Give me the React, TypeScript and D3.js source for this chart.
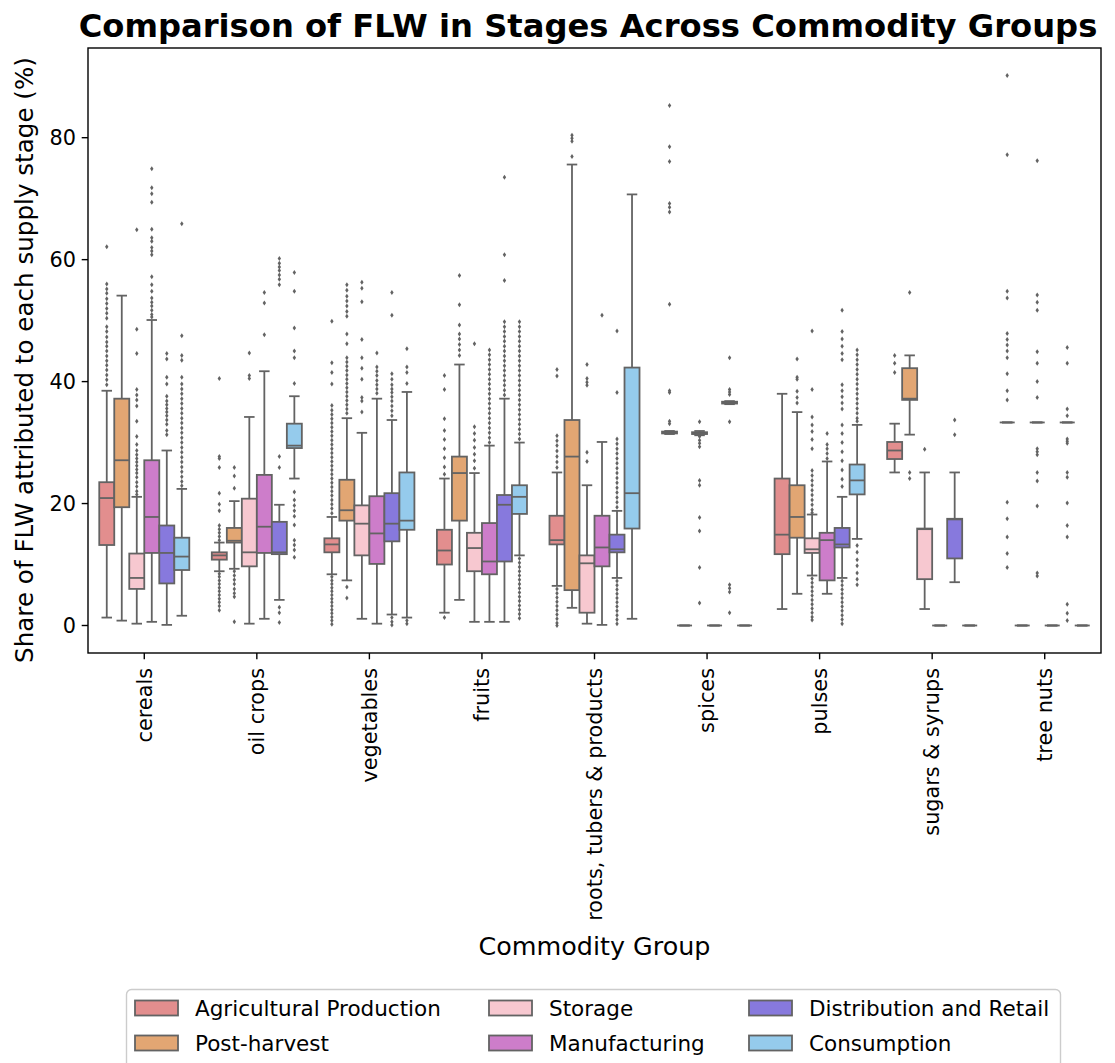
import React from 'react';
import * as d3 from 'd3';

const categories = [
  'cereals', 'oil crops', 'vegetables', 'fruits', 'roots, tubers & products',
  'spices', 'pulses', 'sugars & syrups', 'tree nuts',
];
const stages = [
  'Agricultural Production', 'Post-harvest', 'Storage',
  'Manufacturing', 'Distribution and Retail', 'Consumption',
];
const stageColors = ['lightcoral', 'sandybrown', 'pink', 'orchid', 'mediumslateblue', 'lightskyblue'];
const yTicks = [0, 20, 40, 60, 80];

// per category: [lower whisker, Q1, median, Q3, upper whisker]
const agriStats = [
  [1.3, 13.2, 20.9, 23.5, 38.5],
  [8.9, 10.8, 11.5, 12.0, 13.6],
  [8.4, 12.0, 13.3, 14.3, 17.8],
  [2.1, 10.0, 12.3, 15.7, 24.1],
  [6.5, 13.3, 14.0, 18.0, 25.1],
  [31.4, 31.5, 31.6, 31.8, 31.9],
  [2.7, 11.7, 14.9, 24.1, 38.0],
  [25.1, 27.3, 28.7, 30.1, 33.1],
  [33.3, 33.3, 33.3, 33.3, 33.3],
];
const postStats = [
  [0.8, 19.4, 27.1, 37.2, 54.1],
  [9.3, 13.6, 13.9, 16.0, 20.4],
  [7.4, 17.2, 18.9, 23.9, 34.0],
  [4.2, 17.2, 25.0, 27.7, 42.8],
  [2.9, 5.8, 27.7, 33.7, 75.6],
  [0, 0, 0, 0, 0],
  [5.2, 14.4, 17.8, 23.0, 35.0],
  [31.3, 37.0, 37.2, 42.2, 44.3],
  [0, 0, 0, 0, 0],
];
const storageStats = [
  [0.3, 6.0, 7.8, 11.8, 21.1],
  [0.3, 9.7, 12.0, 20.8, 34.2],
  [1.1, 11.5, 16.7, 19.7, 31.6],
  [0.6, 8.9, 12.7, 15.2, 25.0],
  [0.3, 2.1, 10.2, 11.5, 23.0],
  [31.2, 31.4, 31.5, 31.7, 31.9],
  [8.2, 11.9, 12.5, 14.3, 18.2],
  [2.7, 7.6, 15.8, 15.9, 25.1],
  [33.3, 33.3, 33.3, 33.3, 33.3],
];
const manufStats = [
  [0.6, 11.9, 17.8, 27.1, 50.1],
  [1.1, 11.9, 16.2, 24.7, 41.7],
  [0.3, 10.1, 15.1, 21.2, 37.2],
  [0.6, 8.4, 10.5, 16.8, 29.5],
  [0.1, 9.7, 12.8, 18.0, 30.1],
  [0, 0, 0, 0, 0],
  [5.2, 7.4, 14.0, 15.2, 26.9],
  [0, 0, 0, 0, 0],
  [0, 0, 0, 0, 0],
];
const distStats = [
  [0.1, 6.9, 11.9, 16.4, 28.7],
  [4.2, 11.7, 12.0, 17.0, 19.8],
  [1.8, 13.8, 16.7, 21.7, 33.7],
  [0.6, 10.5, 19.8, 21.4, 37.2],
  [7.8, 12.0, 12.5, 14.9, 18.8],
  [36.3, 36.4, 36.6, 36.7, 36.8],
  [7.8, 12.8, 13.3, 16.0, 21.1],
  [7.1, 11.0, 17.4, 17.5, 25.1],
  [33.3, 33.3, 33.3, 33.3, 33.3],
];
const consStats = [
  [1.6, 9.1, 11.3, 14.4, 22.4],
  [24.1, 29.1, 29.5, 33.1, 37.6],
  [1.3, 15.7, 17.2, 25.1, 38.3],
  [11.5, 18.3, 21.1, 23.0, 30.0],
  [1.1, 15.9, 21.7, 42.3, 70.7],
  [0, 0, 0, 0, 0],
  [14.2, 21.5, 23.8, 26.4, 32.9],
  [0, 0, 0, 0, 0],
  [0, 0, 0, 0, 0],
];

const agriOutliers = [
  [62.1, 56.0, 55.2, 54.5, 53.6, 52.8, 52.0, 51.2, 50.4, 49.0, 48.2, 47.3, 46.5, 45.8, 45.0, 44.2, 43.4, 42.7, 41.9, 41.1, 40.3, 39.5],
  [40.5, 27.7, 27.4, 25.9, 21.7, 19.9, 18.8, 16.4, 15.8, 15.2, 14.6, 14.0, 8.5, 8.0, 7.4, 6.8, 6.2, 5.6, 5.0, 4.4, 3.8, 3.2, 2.5],
  [49.9, 43.1, 41.5, 39.6, 36.1, 35.3, 34.6, 33.9, 33.2, 32.5, 31.8, 31.1, 30.4, 29.7, 29.0, 28.3, 27.6, 26.9, 26.2, 25.5, 24.8, 24.1, 23.4, 22.7, 22.0, 21.3, 20.6, 19.9, 19.2, 18.4, 8.0, 7.4, 6.8, 6.2, 5.6, 5.0, 4.4, 3.8, 3.2, 2.6, 2.0, 1.4, 0.8, 0.2],
  [41.0, 38.7, 33.9, 32.0, 30.5, 29.0, 27.5, 26.0, 24.8, 1.3],
  [42.0, 40.9, 31.1, 30.3, 29.5, 28.6, 27.7, 26.8, 25.9, 6.0, 5.3, 4.6, 3.9, 3.2, 2.5, 1.8, 1.1, 0.4, 0.0],
  [85.3, 78.5, 76.1, 69.2, 68.6, 67.8, 52.7, 38.5, 38.2, 33.5, 33.1],
  [],
  [44.3, 43.0, 41.5],
  [90.2, 77.2, 54.8, 53.7, 47.9, 46.9, 46.0, 45.0, 43.9, 41.3, 38.5, 37.0, 20.2, 17.5, 14.5, 11.8, 9.5],
];
const postOutliers = [
  [],
  [25.9, 24.5, 22.5, 8.9, 8.2, 7.5, 6.8, 6.0, 5.3, 4.7, 0.6],
  [55.9, 55.0, 54.0, 53.2, 52.4, 51.5, 50.7, 47.8, 46.2, 43.9, 43.2, 42.5, 41.8, 41.1, 40.4, 39.7, 39.0, 38.3, 37.6, 36.9, 36.2, 35.5, 34.8, 6.3, 4.5],
  [57.4, 52.6, 49.3, 47.8, 47.0, 46.1, 45.2, 44.3],
  [80.4, 79.9, 79.4, 76.9],
  [],
  [43.7, 40.7, 40.4, 38.4, 37.4, 36.5],
  [54.6, 25.1, 24.1],
  [],
];
const storageOutliers = [
  [64.9, 48.6, 44.6, 38.7, 37.8, 37.0, 36.0, 33.5, 31.0, 29.7, 28.7, 28.0, 27.4, 26.8, 26.2, 25.6, 25.0, 24.3, 23.5, 22.8, 22.0, 21.5],
  [44.7, 41.0, 40.5],
  [56.3, 55.3, 53.1, 46.9, 43.9, 42.2, 40.4, 37.4, 36.8, 35.0],
  [46.2, 32.6, 31.5, 30.4, 29.2, 28.1, 27.0, 25.8],
  [42.8, 40.5, 39.9, 39.4, 28.4, 26.9],
  [33.4, 31.0, 30.4, 29.9, 29.3, 23.8, 23.0, 17.7, 15.5, 9.5, 3.7],
  [48.3, 38.7, 34.2, 32.9, 31.8, 30.5, 29.0, 25.4, 24.6, 23.8, 23.0, 22.2, 21.4, 20.6, 19.8, 19.0, 18.5, 7.7, 7.0, 6.3, 5.6, 4.9, 4.2, 3.5, 2.8, 2.1, 1.4, 0.9],
  [28.9],
  [76.2, 54.2, 53.0, 51.7, 44.9, 43.0, 40.0, 37.4, 29.0, 28.5, 28.0, 25.1, 23.7, 19.6, 8.6, 8.1],
];
const manufOutliers = [
  [74.9, 71.8, 70.8, 69.4, 65.0, 63.6, 63.0, 62.0, 61.4, 60.8, 57.2, 55.9, 54.8, 53.7, 53.0, 52.4, 51.7, 51.0, 50.6],
  [54.6, 52.9, 47.7],
  [44.7, 42.4, 41.7, 41.0, 40.2, 39.5, 38.8, 38.1],
  [45.2, 44.4, 43.6, 42.8, 42.0, 41.2, 40.4, 39.6, 38.8, 38.0, 37.2, 36.4, 35.6, 34.8, 34.0, 33.2, 32.4, 31.6, 30.8, 30.0],
  [50.9],
  [],
  [31.5, 29.7, 29.0, 28.2, 27.4],
  [],
  [],
];
const distOutliers = [
  [44.6, 43.7, 40.7, 39.6, 37.6, 36.8, 36.2, 35.6, 35.0, 34.4, 33.7, 33.0, 32.0, 31.3],
  [60.2, 59.4, 58.8, 58.2, 57.5, 56.8, 55.9, 27.7, 25.9, 3.0, 2.1, 0.5],
  [54.6, 50.9, 41.3, 40.4, 39.5, 38.8, 38.2, 37.5, 36.8, 36.0, 35.2, 34.4, 1.3, 0.6, 0.1],
  [73.5, 60.8, 56.6, 49.8, 49.0, 48.2, 47.4, 46.6, 45.8, 45.0, 44.2, 43.4, 42.6, 41.8, 41.0, 40.2, 39.4, 38.6, 37.8],
  [48.3, 38.2, 30.6, 29.8, 29.0, 28.2, 27.4, 26.6, 25.8, 25.0, 24.2, 23.4, 22.6, 21.8, 21.0, 20.2, 19.4, 7.3, 6.6, 5.9, 5.2, 4.5, 3.8, 3.1, 2.4, 1.7, 1.0, 0.3],
  [43.9, 38.7, 38.3, 37.9, 33.4, 6.7, 6.1, 5.5, 2.1],
  [51.7, 48.2, 47.0, 45.8, 44.6, 43.6, 39.5, 38.5, 37.5, 36.5, 35.5, 32.9, 31.5, 30.0, 28.5, 27.0, 25.5, 24.0, 22.8, 7.3, 6.6, 5.9, 5.2, 4.5, 3.8, 3.1, 2.4, 1.7, 1.0, 0.3],
  [33.7, 31.3],
  [45.6, 43.0, 35.5, 34.4, 30.6, 30.2, 29.9, 25.1, 24.3, 20.1, 16.4, 14.5, 3.5, 2.0, 0.8],
];
const consOutliers = [
  [65.9, 47.5, 44.3, 43.5, 40.7, 39.6, 38.8, 38.0, 37.2, 36.4, 35.6, 34.8, 34.0, 33.2, 32.4, 31.6, 30.8, 30.0, 29.2, 28.4, 27.6, 26.8, 26.0, 25.2, 24.4, 23.6, 22.9],
  [57.9, 54.8, 48.8, 45.0, 43.9, 39.7, 21.9, 20.6, 19.7, 18.8, 17.9, 16.5, 14.0, 13.2, 12.4, 11.2],
  [45.4, 42.4, 41.5, 39.7, 0.8, 0.3],
  [49.8, 49.0, 48.2, 47.4, 46.6, 45.8, 45.0, 44.2, 43.4, 42.6, 41.8, 41.0, 40.2, 39.4, 38.6, 37.8, 37.0, 36.2, 35.4, 34.6, 33.8, 33.0, 32.2, 31.4, 30.6, 11.0, 10.3, 9.6, 8.9, 8.2, 7.5, 6.8, 6.1, 5.4, 4.7, 4.0, 3.3, 2.6, 1.9, 1.2],
  [],
  [],
  [45.2, 44.4, 43.6, 42.8, 42.0, 41.2, 40.4, 39.6, 38.8, 38.0, 37.2, 36.4, 35.6, 34.8, 34.0, 33.5, 13.1, 12.0, 10.8, 9.8, 8.6, 7.6, 6.7],
  [],
  [],
];

const stageStats = [agriStats, postStats, storageStats, manufStats, distStats, consStats];
const stageOutliers = [agriOutliers, postOutliers, storageOutliers, manufOutliers, distOutliers, consOutliers];

const W = 1115;
const H = 1063;
const margin = { left: 88, right: 14, top: 48, bottom: 410 };
const FONT = 'DejaVu Sans, sans-serif';
const LINE = '#636363';

// seaborn-style desaturation (0.75)
const fills = stageColors.map((c) => {
  const h = d3.hsl(c);
  h.s *= 0.75;
  return h.formatHex();
});

export default function App() {
  const x = d3.scaleBand<string>()
    .domain(categories)
    .range([margin.left, W - margin.right])
    .paddingInner(0)
    .paddingOuter(0);
  const y = d3.scaleLinear()
    .domain([-4.51, 94.71])
    .range([H - margin.bottom, margin.top]);

  const band = x.bandwidth();
  const bw = (band * 0.8) / stages.length;
  const capW = bw * 0.7;
  const x0 = margin.left;
  const x1 = W - margin.right;
  const y0 = margin.top;
  const y1 = H - margin.bottom;

  const diamond = (cx: number, cy: number) =>
    `M${cx},${cy - 2.5}L${cx + 1.7},${cy}L${cx},${cy + 2.5}L${cx - 1.7},${cy}Z`;

  return (
    <div style={{ position: 'absolute', left: 0, top: 0 }}>
      <svg width={W} height={H} style={{ display: 'block', background: '#fff' }} fontFamily={FONT}>
        <text x={588} y={37} textAnchor="middle" fontSize={32.2} fontWeight="bold" fill="#000">
          Comparison of FLW in Stages Across Commodity Groups
        </text>

        {categories.map((cat, i) => (
          <g key={cat}>
            {stages.map((st, j) => {
              const [lo, q1, med, q3, hi] = stageStats[j][i];
              const cx = (x(cat) as number) + band * 0.1 + bw * (j + 0.5);
              return (
                <g key={st}>
                  <line x1={cx} x2={cx} y1={y(q3)} y2={y(hi)} stroke={LINE} strokeWidth={1.8} />
                  <line x1={cx} x2={cx} y1={y(q1)} y2={y(lo)} stroke={LINE} strokeWidth={1.8} />
                  <line x1={cx - capW / 2} x2={cx + capW / 2} y1={y(hi)} y2={y(hi)} stroke={LINE} strokeWidth={1.8} />
                  <line x1={cx - capW / 2} x2={cx + capW / 2} y1={y(lo)} y2={y(lo)} stroke={LINE} strokeWidth={1.8} />
                  <rect
                    x={cx - bw / 2}
                    y={y(q3)}
                    width={bw}
                    height={Math.max(0, y(q1) - y(q3))}
                    fill={fills[j]}
                    stroke={LINE}
                    strokeWidth={1.8}
                  />
                  <line x1={cx - bw / 2} x2={cx + bw / 2} y1={y(med)} y2={y(med)} stroke={LINE} strokeWidth={1.8} />
                  {stageOutliers[j][i].map((v, k) => (
                    <path key={k} d={diamond(cx, y(v))} fill={LINE} />
                  ))}
                </g>
              );
            })}
          </g>
        ))}

        <rect x={x0} y={y0} width={x1 - x0} height={y1 - y0} fill="none" stroke="#000" strokeWidth={1.4} />

        {yTicks.map((t) => (
          <g key={t}>
            <line x1={x0 - 6.3} x2={x0} y1={y(t)} y2={y(t)} stroke="#000" strokeWidth={1.4} />
            <text x={x0 - 12} y={y(t)} dy="0.35em" textAnchor="end" fontSize={20.8} fill="#000">{t}</text>
          </g>
        ))}

        {categories.map((cat) => {
          const cx = (x(cat) as number) + band / 2;
          return (
            <g key={cat}>
              <line x1={cx} x2={cx} y1={y1} y2={y1 + 6.3} stroke="#000" strokeWidth={1.4} />
              <text
                transform={`translate(${cx},${y1 + 15}) rotate(-90)`}
                textAnchor="end"
                dy="0.35em"
                fontSize={20.8}
                fill="#000"
              >
                {cat}
              </text>
            </g>
          );
        })}

        <text
          transform={`translate(33,360) rotate(-90)`}
          textAnchor="middle"
          fontSize={24.6}
          fill="#000"
        >
          Share of FLW attributed to each supply stage (%)
        </text>
        <text x={(x0 + x1) / 2} y={955} textAnchor="middle" fontSize={25.4} fill="#000">
          Commodity Group
        </text>

        <g>
          <rect x={126.5} y={989.5} width={934} height={90} rx={5} fill="#fff" fillOpacity={0.8} stroke="#cccccc" strokeWidth={1.4} />
          {stages.map((st, j) => {
            const col = Math.floor(j / 2);
            const row = j % 2;
            const lx = [135, 489, 749][col];
            const ly = 1008 + row * 35;
            return (
              <g key={st}>
                <rect x={lx} y={ly - 7.5} width={43} height={15} fill={fills[j]} stroke={LINE} strokeWidth={1.8} />
                <text x={lx + 60} y={ly} dy="0.35em" fontSize={21.5} fill="#000">{st}</text>
              </g>
            );
          })}
        </g>
      </svg>
    </div>
  );
}
